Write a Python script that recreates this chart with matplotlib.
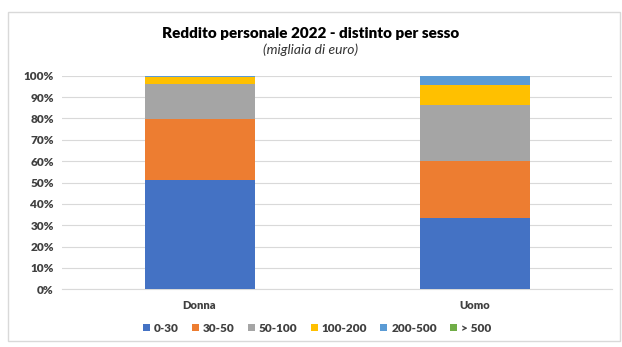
import matplotlib
matplotlib.use("Agg")
import matplotlib.pyplot as plt
from matplotlib.patches import Rectangle

plt.rcParams['font.family'] = ['Lato', 'DejaVu Sans']

categories = ["Donna", "Uomo"]
bands = ["0-30", "30-50", "50-100", "100-200", "200-500", "> 500"]
shares = {
    "0-30":    [51.2, 33.4],
    "30-50":   [28.4, 26.8],
    "50-100":  [16.4, 26.3],
    "100-200": [3.4, 9.0],
    "200-500": [0.5, 4.2],
    "> 500":   [0.1, 0.3],
}
colors = ["#4472C4", "#ED7D31", "#A5A5A5", "#FFC000", "#5B9BD5", "#70AD47"]
yticks = list(range(0, 101, 10))

fig = plt.figure(figsize=(6.22, 3.47), dpi=100)
fig.patch.set_facecolor("white")

# chart frame
fig.add_artist(Rectangle((8 / 622, 6 / 347), 612 / 622, 329 / 347,
                         transform=fig.transFigure, fill=False,
                         edgecolor="#D9D9D9", linewidth=1.0))

ax = fig.add_axes([62 / 622, 57.7 / 347, 550 / 622, 213.6 / 347])
x = list(range(len(categories)))
bottom = [0.0] * len(categories)
for band, col in zip(bands, colors):
    vals = shares[band]
    ax.bar(x, vals, width=0.4, bottom=bottom, color=col, label=band, zorder=3)
    bottom = [b + v for b, v in zip(bottom, vals)]

ax.set_xlim(-0.5, 1.5)
ax.set_ylim(0, 100)
ax.set_yticks(yticks)
ax.set_yticklabels([f"{t}%" for t in yticks], fontsize=8.5, fontweight="heavy", color="#404040")
ax.set_xticks(x)
ax.set_xticklabels(categories, fontsize=8, fontweight="heavy", color="#404040")
ax.tick_params(axis="both", length=0, pad=6)
ax.tick_params(axis="x", pad=8)
ax.grid(axis="y", color="#D9D9D9", linewidth=0.8, zorder=0)
for s in ["top", "right", "left"]:
    ax.spines[s].set_visible(False)
ax.spines["bottom"].set_color("#D9D9D9")

fig.text(0.5, 1 - 33 / 347, "Reddito personale 2022 - distinto per sesso",
         ha="center", va="center", fontsize=11, fontweight="heavy", color="#000000")
fig.text(0.5, 1 - 50 / 347, "(migliaia di euro)", ha="center", va="center",
         fontsize=10, style="italic", color="#333333")

handles, labels = ax.get_legend_handles_labels()
fig.legend(handles, labels, loc="center", bbox_to_anchor=(0.51, 1 - 328 / 347),
           ncol=6, frameon=False, handlelength=0.6, handleheight=0.6,
           columnspacing=1.1, handletextpad=0.35, prop={"weight": "heavy", "size": 8.5})
for t in fig.legends[0].get_texts():
    t.set_color("#404040")

fig.savefig("out.png", dpi=100, facecolor="white")
